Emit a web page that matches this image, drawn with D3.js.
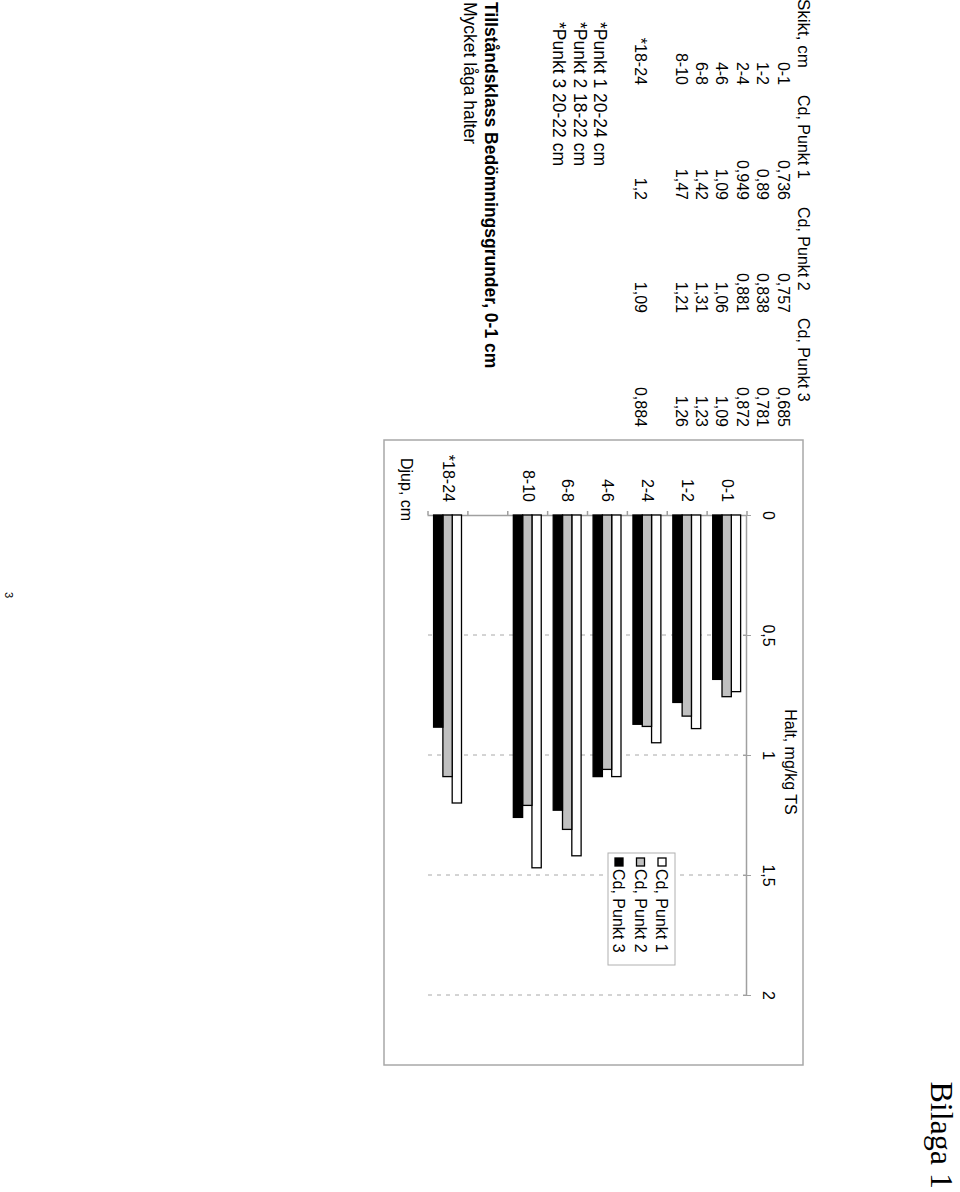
<!DOCTYPE html>
<html>
<head>
<meta charset="utf-8">
<script src="https://cdn.jsdelivr.net/npm/d3@7"></script>
<style>
html,body{margin:0;padding:0;background:#fff;}
svg{display:block;}
text{font-family:"Liberation Sans",Arial,sans-serif;fill:#000;}
</style>
</head>
<body>
<svg id="page" width="960" height="1192"></svg>
<script>
// ---- data ----
const categories = ["0-1","1-2","2-4","4-6","6-8","8-10","*18-24"];
const axisSlots = ["0-1","1-2","2-4","4-6","6-8","8-10","gap","*18-24"];
const punkt1 = [0.736,0.89,0.949,1.09,1.42,1.47,1.2];
const punkt2 = [0.757,0.838,0.881,1.06,1.31,1.21,1.09];
const punkt3 = [0.685,0.781,0.872,1.09,1.23,1.26,0.884];
const seriesNames = ["Cd, Punkt 1","Cd, Punkt 2","Cd, Punkt 3"];
const seriesFills = ["#ffffff","#c0c0c0","#000000"];
const valueTicks = [0,0.5,1,1.5,2];
const valueTickLabels = ["0","0,5","1","1,5","2"];
const tableHeader = ["Skikt, cm","Cd, Punkt 1","Cd, Punkt 2","Cd, Punkt 3"];
const notes = ["*Punkt 1 20-24 cm","*Punkt 2 18-22 cm","*Punkt 3 20-22 cm"];
const classTitle = "Tillståndsklass Bedömningsgrunder, 0-1 cm";
const classText = "Mycket låga halter";

const series = [punkt1, punkt2, punkt3];
const fmt = v => String(v).replace(".", ",");

const svg = d3.select("#page");
// page is rotated 90° clockwise: draw in upright frame (1192 x 960)
const page = svg.append("g").attr("transform","translate(960,0) rotate(90)");

// ---- header "Bilaga 1" & page number ----
page.append("text").attr("x",1189).attr("y",29).attr("text-anchor","end")
  .style("font-family","'Liberation Serif','Times New Roman',serif").style("font-size","32px").text("Bilaga 1");
page.append("text").attr("x",595).attr("y",955).attr("text-anchor","middle")
  .style("font-size","11px").text("3");

// ---- table ----
const fs = 16;
const rowH = 20.4;
const base0 = 162;
const tbl = page.append("g").style("font-size", fs+"px");
tbl.append("text").attr("x",-1).attr("y",base0).style("font-size","17px").text(tableHeader[0]);
const headX = [95,207,318];
headX.forEach((x,i)=>tbl.append("text").attr("x",x).attr("y",base0).text(tableHeader[i+1]));
const valX = [200,313,427];
const rowIdx = [1,2,3,4,5,6,8];
categories.forEach((c,ci)=>{
  const y = base0 + rowH*rowIdx[ci];
  tbl.append("text").attr("x",85).attr("y",y).attr("text-anchor","end").text(c);
  series.forEach((s,si)=>{
    tbl.append("text").attr("x",valX[si]).attr("y",y).attr("text-anchor","end").text(fmt(s[ci]));
  });
});
notes.forEach((n,i)=>{
  tbl.append("text").attr("x",22).attr("y",base0 + rowH*(10+i)).style("font-size","17.5px").text(n);
});
tbl.append("text").attr("x",2).attr("y",475).style("font-weight","bold").style("font-size","17.5px").text(classTitle);
tbl.append("text").attr("x",2).attr("y",496).style("font-size","17.5px").text(classText);

// ---- chart ----
const chart = page.append("g");
chart.append("rect").attr("x",440).attr("y",157).attr("width",625).attr("height",419)
  .attr("fill","none").attr("stroke","#a8a8a8").attr("stroke-width",1.5);

const x = d3.scaleLinear().domain([0,2]).range([515,995]);
const y = d3.scaleBand().domain(axisSlots).range([213,532]);
const inner = d3.scaleBand().domain([0,1,2]).range([y.bandwidth()*0.16, y.bandwidth()*0.86]);

// gridlines
chart.append("g").selectAll("line").data(valueTicks.filter(v=>v>0)).join("line")
  .attr("x1",d=>x(d)).attr("x2",d=>x(d)).attr("y1",213).attr("y2",532)
  .attr("stroke","#a8a8a8").attr("stroke-width",1).attr("stroke-dasharray","4,5");

// value axis (top in upright frame)
const xAxis = d3.axisTop(x).tickValues(valueTicks).tickFormat((d,i)=>valueTickLabels[i])
  .tickSizeInner(4).tickSizeOuter(0).tickPadding(12);
const gx = chart.append("g").attr("transform","translate(0,213)").call(xAxis);
gx.select(".domain").attr("stroke","#a0a0a0").attr("stroke-width",1.5);
gx.selectAll(".tick line").attr("stroke","#a0a0a0").attr("y1",-4).attr("y2",4);
gx.selectAll(".tick text").style("font-size","16px").style("font-family","'Liberation Sans',Arial,sans-serif").attr("fill","#000");

// category axis
const yAxis = d3.axisLeft(y).tickFormat(d=> d==="gap" ? "" : d).tickSize(0).tickPadding(13);
const gy = chart.append("g").attr("transform","translate(515,0)").call(yAxis);
gy.select(".domain").attr("stroke","#a0a0a0").attr("stroke-width",1.5);
gy.selectAll(".tick text").style("font-size","16px").style("font-family","'Liberation Sans',Arial,sans-serif").attr("fill","#000");
const bounds = axisSlots.map(d=>y(d)).concat([y.range()[1]]);
chart.append("g").selectAll("line").data(bounds).join("line")
  .attr("x1",511).attr("x2",515).attr("y1",d=>d).attr("y2",d=>d)
  .attr("stroke","#a0a0a0").attr("stroke-width",1.5);

// bars
series.forEach((s,si)=>{
  chart.append("g").selectAll("rect").data(categories.map((c,ci)=>({c, v:s[ci]}))).join("rect")
    .attr("x",x(0))
    .attr("y",d=>y(d.c)+inner(si))
    .attr("width",d=>x(d.v)-x(0))
    .attr("height",inner.bandwidth())
    .attr("fill",seriesFills[si]).attr("stroke","#000").attr("stroke-width",1.3);
});

// axis titles
chart.append("text").attr("x",762).attr("y",175).attr("text-anchor","middle").style("font-size","16px").text("Halt, mg/kg TS");
chart.append("text").attr("x",458).attr("y",559).style("font-size","16px").text("Djup, cm");

// legend
const leg = chart.append("g");
leg.append("rect").attr("x",853).attr("y",285).attr("width",112).attr("height",67)
  .attr("fill","#fff").attr("stroke","#b0b0b0").attr("stroke-width",1);
seriesNames.forEach((n,i)=>{
  const cy = 298 + i*21.5;
  leg.append("rect").attr("x",858).attr("y",cy-4).attr("width",8).attr("height",8)
    .attr("fill",seriesFills[i]).attr("stroke","#000").attr("stroke-width",1.3);
  leg.append("text").attr("x",869).attr("y",cy+6).style("font-size","16px").text(n);
});
</script>
</body>
</html>
